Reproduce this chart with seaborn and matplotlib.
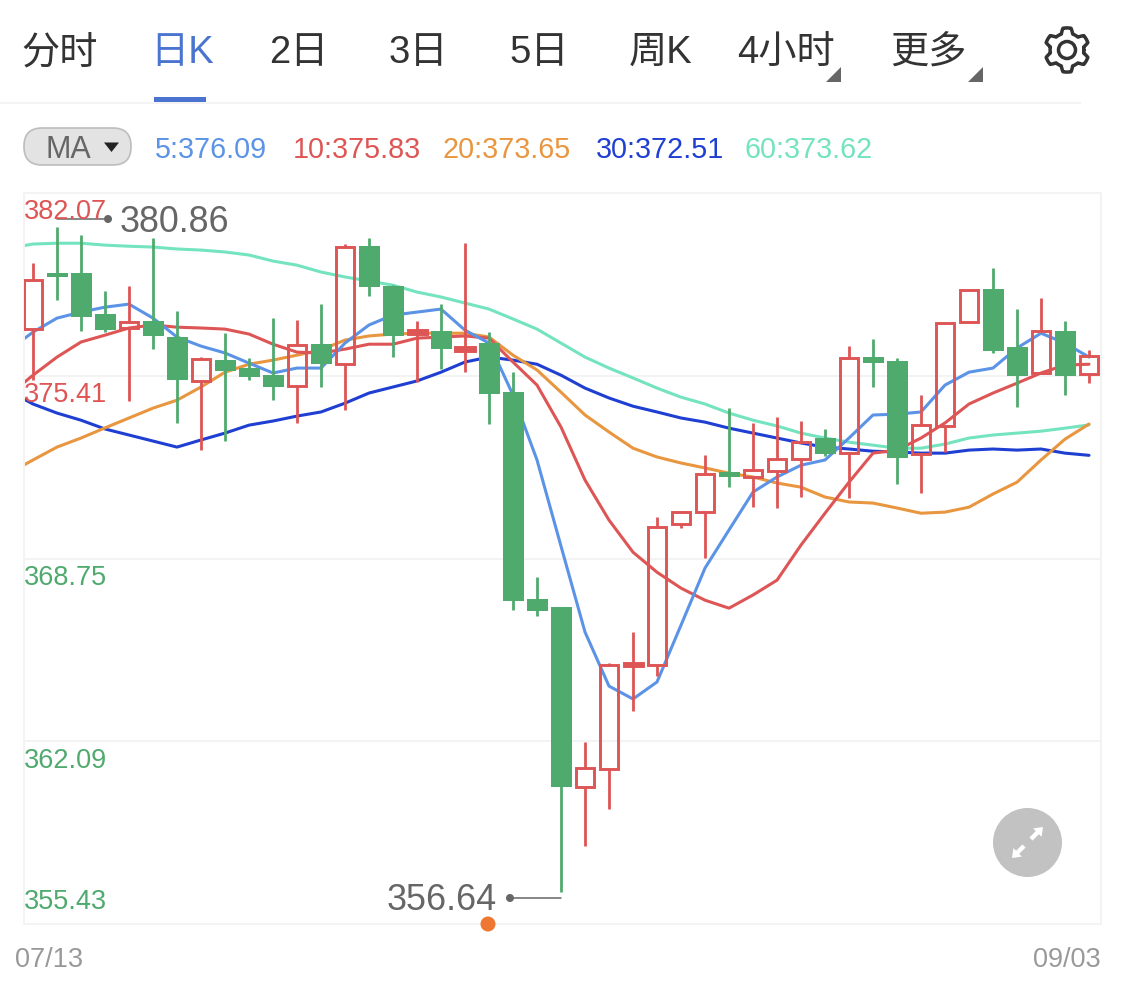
import numpy as np
import pandas as pd
import seaborn as sns
import matplotlib
matplotlib.use("Agg")
import matplotlib.pyplot as plt
from matplotlib.patches import FancyBboxPatch, Circle, Polygon, Rectangle

# ---------- data (prices) ----------
opens = [377.11, 379.17, 379.15, 377.66, 377.15, 377.40, 376.82, 375.22, 375.98, 375.69,
         375.43, 375.03, 376.56, 375.83, 380.13, 378.68, 376.93, 377.04, 376.31, 376.60,
         374.81, 367.27, 366.98, 360.42, 361.08, 364.83, 364.87, 370.00, 370.44, 371.89,
         371.72, 371.94, 372.37, 373.14, 372.59, 376.09, 375.94, 372.56, 373.58, 377.37,
         378.57, 376.45, 375.51, 377.04, 375.47]
closes = [378.90, 379.00, 377.55, 377.08, 377.37, 376.86, 375.26, 376.02, 375.58, 375.36,
          375.00, 376.53, 375.83, 380.10, 378.64, 376.86, 377.07, 376.38, 376.45, 374.74,
          367.20, 366.83, 360.42, 361.11, 364.87, 364.94, 369.90, 370.44, 371.83, 371.72,
          371.97, 372.37, 372.99, 372.56, 376.05, 375.87, 372.41, 373.61, 377.33, 378.53,
          376.31, 375.40, 377.04, 375.40, 376.13]
highs = [379.52, 380.83, 380.54, 378.50, 378.68, 380.43, 377.77, 376.09, 376.96, 376.05,
         377.51, 377.44, 378.02, 380.21, 380.43, 378.70, 377.40, 378.02, 380.24, 377.00,
         375.54, 368.07, 366.98, 362.06, 364.94, 366.07, 370.26, 370.48, 372.52, 374.23,
         373.69, 373.90, 373.76, 373.47, 376.49, 376.75, 376.05, 374.71, 377.33, 378.57,
         379.33, 377.84, 378.24, 377.40, 376.35]
lows = [375.26, 378.17, 377.04, 377.00, 374.49, 376.38, 373.69, 372.70, 373.03, 375.26,
        374.52, 373.69, 375.00, 374.16, 378.31, 376.09, 375.18, 375.65, 375.54, 373.65,
        366.87, 366.65, 356.59, 358.27, 359.62, 363.19, 364.47, 369.86, 368.77, 371.35,
        370.62, 370.59, 370.99, 372.48, 370.95, 375.00, 371.46, 371.13, 372.63, 377.33,
        376.24, 374.27, 375.51, 374.71, 375.14]

ma5 = [376.35, 377.00, 377.51, 377.73, 377.91, 378.02, 377.51, 376.82, 376.49, 376.24,
       375.87, 375.51, 375.69, 375.69, 376.60, 377.26, 377.62, 377.73, 377.84, 377.07,
       376.60, 374.71, 372.34, 369.20, 366.07, 364.10, 363.63, 364.25, 366.32, 368.40,
       369.79, 371.17, 371.72, 372.15, 372.34, 373.14, 373.98, 374.01, 374.09, 375.07,
       375.54, 375.69, 376.42, 376.96, 376.60, 376.09]
ma10 = [374.71, 375.43, 376.09, 376.64, 376.89, 377.15, 377.26, 377.18, 377.15, 377.11,
        376.93, 376.56, 376.27, 376.24, 376.38, 376.56, 376.56, 376.78, 376.82, 376.86,
        376.78, 375.91, 375.07, 373.54, 371.61, 370.15, 368.98, 368.25, 367.67, 367.23,
        366.94, 367.42, 367.96, 369.24, 370.40, 371.53, 372.59, 372.70, 373.14, 373.69,
        374.38, 374.78, 375.14, 375.51, 375.80, 375.83]
ma20 = [371.86, 372.34, 372.81, 373.14, 373.51, 373.87, 374.23, 374.52, 375.00, 375.54,
        375.83, 375.98, 376.16, 376.35, 376.71, 376.86, 376.93, 376.96, 376.96, 376.96,
        376.82, 376.16, 375.62, 374.81, 373.98, 373.36, 372.77, 372.45, 372.23, 372.05,
        371.86, 371.72, 371.50, 371.35, 370.99, 370.81, 370.77, 370.59, 370.40, 370.44,
        370.62, 371.10, 371.53, 372.34, 373.10, 373.65]
ma30 = [374.85, 374.38, 374.05, 373.79, 373.47, 373.25, 373.03, 372.81, 373.07, 373.32,
        373.61, 373.76, 373.94, 374.09, 374.41, 374.78, 375.00, 375.22, 375.54, 375.91,
        376.09, 375.98, 375.83, 375.43, 374.96, 374.60, 374.30, 374.09, 373.87, 373.72,
        373.50, 373.32, 373.14, 372.96, 372.81, 372.74, 372.66, 372.63, 372.59, 372.59,
        372.70, 372.74, 372.70, 372.74, 372.59, 372.51]
ma60 = [380.06, 380.21, 380.24, 380.24, 380.17, 380.13, 380.10, 380.03, 379.99, 379.92,
        379.81, 379.59, 379.44, 379.19, 379.01, 378.86, 378.71, 378.46, 378.28, 378.06,
        377.84, 377.48, 377.11, 376.60, 376.09, 375.69, 375.33, 374.96, 374.63, 374.38,
        374.05, 373.79, 373.58, 373.32, 373.14, 372.99, 372.88, 372.77, 372.77, 372.92,
        373.14, 373.25, 373.32, 373.39, 373.50, 373.62]

y_ticks = [382.07, 375.41, 368.75, 362.09, 355.43]
ma_labels = ["5:376.09", "10:375.83", "20:373.65", "30:372.51", "60:373.62"]
tabs = ["分时", "日K", "2日", "3日", "5日", "周K", "4小时", "更多"]
dates = ["07/13", "09/03"]
max_label = "380.86"
min_label = "356.64"

# ---------- styles ----------
RED = "#de5555"
GREEN = "#4faa6e"
MA_COLORS = ["#5b93e6", "#de5555", "#e8963f", "#1f3fd2", "#74e3c0"]
GRID = "#f3f3f3"
W, H = 1125, 982

sns.set_theme(style="white")
plt.rcParams["font.family"] = ["Liberation Sans", "Noto Sans CJK SC", "DejaVu Sans"]

fig = plt.figure(figsize=(W / 100, H / 100), dpi=100, facecolor="white")
L, R, T, B = 24, 1101, 193, 924
ax = fig.add_axes([L / W, 1 - B / H, (R - L) / W, (B - T) / H])
ax.set_xlim((L - 33) / 24, (R - 33) / 24)
ax.set_ylim(y_ticks[-1], y_ticks[0])

# gridlines and frame
ax.set_yticks(y_ticks)
ax.set_xticks([])
ax.tick_params(left=False, labelleft=False)
ax.grid(True, axis="y", color=GRID, lw=1.4)
for s in ax.spines.values():
    s.set_color(GRID)
    s.set_linewidth(1.4)

# moving averages
x_ma = np.arange(-1, len(ma5) - 1)
df = pd.DataFrame({"x": x_ma, "MA5": ma5, "MA10": ma10, "MA20": ma20, "MA30": ma30, "MA60": ma60})
for name, col in zip(["MA60", "MA30", "MA20", "MA10", "MA5"], MA_COLORS[::-1]):
    sns.lineplot(data=df, x="x", y=name, color=col, lw=2.2, ax=ax, estimator=None,
                 legend=False, zorder=2)
ax.set_xlabel("")
ax.set_ylabel("")

# candles
x = np.arange(len(opens))
o, c, h, l = map(np.array, (opens, closes, highs, lows))
up = c >= o
top, bot = np.maximum(o, c), np.minimum(o, c)
thin = up & (top - bot < 0.2)
hollow = up & ~thin
ax.vlines(x[up], top[up], h[up], color=RED, lw=2.0, zorder=3)
ax.vlines(x[up], l[up], bot[up], color=RED, lw=2.0, zorder=3)
ax.vlines(x[~up], l[~up], h[~up], color=GREEN, lw=2.0, zorder=3)
ax.bar(x[~up], (top - bot)[~up], bottom=bot[~up], width=21 / 24, color=GREEN, lw=0, zorder=4)
ax.bar(x[hollow], (top - bot)[hollow], bottom=bot[hollow], width=17.5 / 24, fill=False,
       edgecolor=RED, lw=2.1, zorder=4)
ax.bar(x[thin], (top - bot)[thin], bottom=bot[thin], width=19 / 24, color=RED,
       edgecolor=RED, lw=2.1, zorder=4)

# ---------- overlay in pixel coordinates for the page furniture ----------
ov = fig.add_axes([0, 0, 1, 1], facecolor="none")
ov.set_xlim(0, W)
ov.set_ylim(H, 0)
ov.axis("off")

tab_x = [59.5, 182.5, 299, 418, 539, 660.5, 786, 928]
for i, (t, tx) in enumerate(zip(tabs, tab_x)):
    ov.text(tx, 53, t, fontsize=27.5, color="#4a74d0" if i == 1 else "#333333",
            ha="center", va="center", fontweight="medium" if i == 1 else "normal")
ov.add_patch(Rectangle((154, 97), 52, 5, color="#4a74d0", lw=0, zorder=3))
ov.plot([0, 1080], [102.5, 102.5], color=GRID, lw=1.5, zorder=2)
for rx in (841, 983):
    ov.add_patch(Polygon([[rx, 67], [rx, 82], [rx - 15, 82]], color="#666666", lw=0))

# gear icon
cx, cy = 1067, 50
ang = np.linspace(0, 2 * np.pi, 721)
rad = 19.5 + 2.6 * np.clip(2.2 * np.cos(6 * (ang + np.pi / 2)), -1, 1)
ov.plot(cx + rad * np.cos(ang), cy + rad * np.sin(ang), color="#333333", lw=2.5)
ov.add_patch(Circle((cx, cy), 8.5, fill=False, edgecolor="#333333", lw=2.5))

# MA selector
ov.add_patch(FancyBboxPatch((24, 128), 107, 37, boxstyle="round,pad=0,rounding_size=18",
                            facecolor="#e3e3e3", edgecolor="#bdbdbd", lw=1.2))
ov.text(68.5, 150, "MA", fontsize=22, color="#666666", ha="center", va="center")
ov.add_patch(Polygon([[104, 142.5], [119, 142.5], [111.5, 152]], color="#222222", lw=0))

ma_x = [155, 293, 442, 596, 744]
for t, tx, col in zip(ma_labels, ma_x, MA_COLORS):
    ov.text(tx, 150, t, fontsize=20.7, color=col, ha="left", va="center")

# price labels
tick_pos = [212, 395, 578, 761, 902]
for val, ty in zip(y_ticks, tick_pos):
    col = RED if val > 375 else GREEN
    ov.text(24, ty, f"{val:.2f}", fontsize=19.5, color=col, ha="left", va="center")

# date labels
ov.text(15, 960, dates[0], fontsize=19.5, color="#999999", ha="left", va="center")
ov.text(1101, 960, dates[1], fontsize=19.5, color="#999999", ha="right", va="center")

# extreme annotations
ov.plot([57, 108], [219, 219], color="#666666", lw=1.1)
ov.add_patch(Circle((108, 219), 4, color="#666666", lw=0))
ov.text(120, 222, max_label, fontsize=25.8, color="#666666", ha="left", va="center")
ov.plot([510, 561], [898, 898], color="#666666", lw=1.1)
ov.add_patch(Circle((510, 898), 4, color="#666666", lw=0))
ov.text(497, 900, min_label, fontsize=25.8, color="#666666", ha="right", va="center")
ov.add_patch(Circle((488, 924), 7.5, color="#ee7733", lw=0, zorder=5))

# expand button
ov.add_patch(Circle((1027.5, 842.5), 34.5, color="#c2c2c2", lw=0))
def arrow_icon(x0, y0, x1, y1):
    d = np.array([x1 - x0, y1 - y0], float)
    n = np.hypot(*d)
    d /= n
    p = np.array([-d[1], d[0]])
    s = np.array([x0, y0], float)
    e = np.array([x1, y1], float)
    neck = e - d * 8
    pts = [s + p * 2.2, neck + p * 2.2, neck + p * 6, e, neck - p * 6, neck - p * 2.2, s - p * 2.2]
    ov.add_patch(Polygon(pts, color="white", lw=0, zorder=6))
arrow_icon(1031, 839, 1043, 827)
arrow_icon(1024, 846, 1012, 858)

fig.savefig("out.png", dpi=100, facecolor="white")
